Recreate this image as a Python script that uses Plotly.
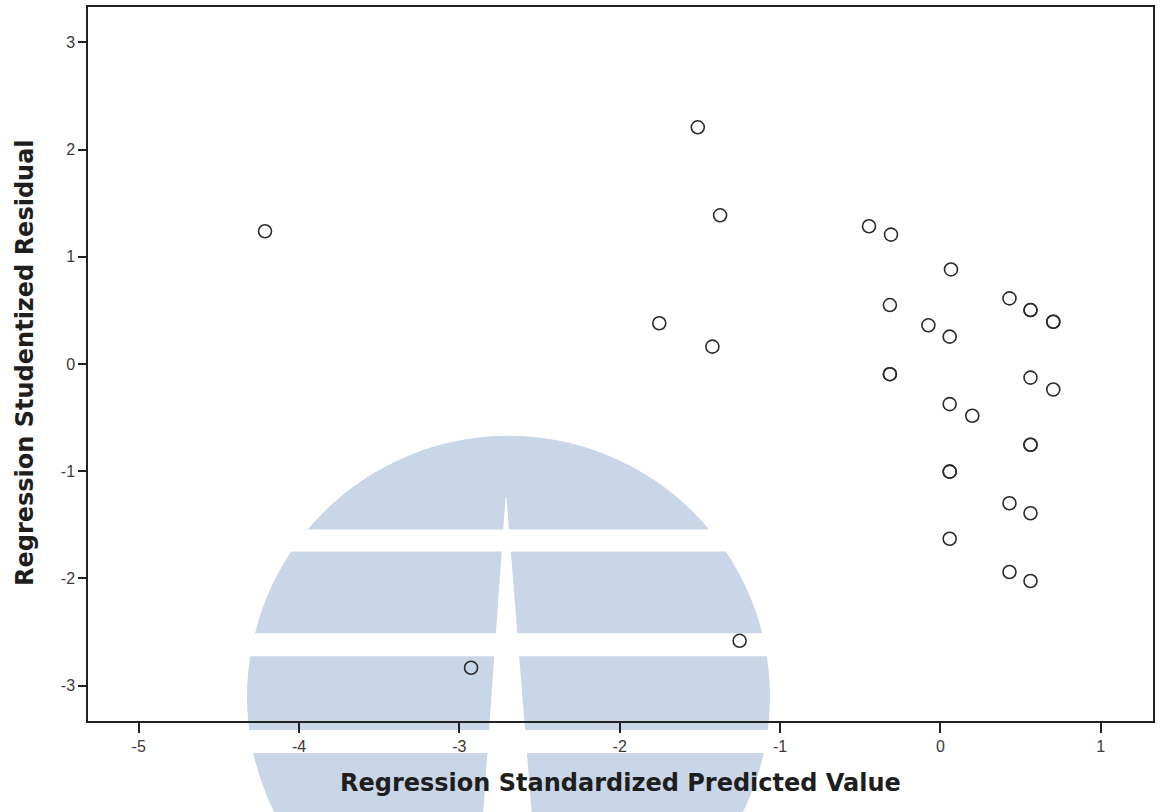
import plotly.graph_objects as go

# Standardized predicted values and studentized residuals (one entry per case;
# repeated pairs are cases that fall on the same spot)
predicted = [
    -4.212, -1.513, -1.374, -1.753, -1.422, -2.927, -1.252,
    -0.445, -0.308, 0.066, -0.315, -0.075, 0.058,
    -0.315, -0.315,
    0.431, 0.562, 0.562, 0.704, 0.704,
    0.562, 0.704, 0.058, 0.199,
    0.562, 0.562, 0.058, 0.058,
    0.431, 0.562, 0.058, 0.431, 0.562,
]
residual = [
    1.238, 2.208, 1.387, 0.380, 0.162, -2.833, -2.582,
    1.285, 1.207, 0.882, 0.550, 0.361, 0.255,
    -0.095, -0.095,
    0.612, 0.503, 0.503, 0.394, 0.394,
    -0.127, -0.238, -0.374, -0.483,
    -0.753, -0.753, -1.004, -1.004,
    -1.299, -1.392, -1.630, -1.940, -2.024,
]

x_ticks = [-5, -4, -3, -2, -1, 0, 1]
x_tick_labels = ["-5", "-4", "-3", "-2", "-1", "0", "1"]
y_ticks = [-3, -2, -1, 0, 1, 2, 3]
y_tick_labels = ["-3", "-2", "-1", "0", "1", "2", "3"]

x_title = "Regression Standardized Predicted Value"
y_title = "Regression Studentized Residual"

W, H = 1165, 812
ML, MR, MT, MB = 88, 12, 5, 91
PW, PH = W - ML - MR, H - MT - MB


def px(x):
    return (x - ML) / PW


def py(y):
    return (H - MB - y) / PH


INK = "#222222"
WM = "#c9d6e7"

fig = go.Figure(
    go.Scatter(
        x=predicted,
        y=residual,
        mode="markers",
        marker=dict(
            symbol="circle-open",
            size=13,
            color="#2b2b2b",
            line=dict(width=1.6, color="#2b2b2b"),
        ),
        hoverinfo="x+y",
    )
)

# Faint logo stamp behind the plot: a disc cut by white bands and a wedge
shapes = [
    dict(type="circle", xref="paper", yref="paper",
         x0=px(247), x1=px(770), y0=py(435), y1=py(958),
         fillcolor=WM, line=dict(width=0), layer="below"),
]
for top, bottom in [(529, 551), (633, 656), (730, 753)]:
    shapes.append(dict(type="rect", xref="paper", yref="paper",
                       x0=px(230), x1=px(790), y0=py(top), y1=py(bottom),
                       fillcolor="white", line=dict(width=0), layer="below"))
wedge = [(505.5, 497), (506.5, 497), (533.0, 830), (482.0, 830)]
path = "M " + " L ".join(f"{px(a):.5f},{py(b):.5f}" for a, b in wedge) + " Z"
shapes.append(dict(type="path", xref="paper", yref="paper", path=path,
                   fillcolor="white", line=dict(width=0), layer="below"))

axis_common = dict(
    showgrid=False,
    zeroline=False,
    showline=True,
    linecolor=INK,
    linewidth=1.5,
    mirror=True,
    ticks="outside",
    tickcolor=INK,
    tickwidth=1.5,
    tickfont=dict(family="Liberation Sans, Arial, sans-serif", size=16, color="#3a3a3a"),
)

fig.update_xaxes(range=[-5.316, 1.326], tickmode="array", tickvals=x_ticks,
                 ticktext=x_tick_labels, ticklen=10, **axis_common)
fig.update_yaxes(range=[-3.33, 3.33], tickmode="array", tickvals=y_ticks,
                 ticktext=y_tick_labels, ticklen=8, **axis_common)

title_font = dict(family="DejaVu Sans, Verdana, sans-serif", size=24, color="#1e1e1e")
annotations = [
    dict(text=f"<b>{x_title}</b>", xref="paper", yref="paper",
         x=px(620.5), y=py(783), xanchor="center", yanchor="middle",
         showarrow=False, font=title_font),
    dict(text=f"<b>{y_title}</b>", xref="paper", yref="paper",
         x=px(25), y=py(362), xanchor="center", yanchor="middle",
         textangle=-90, showarrow=False, font=title_font),
]

fig.update_layout(
    width=W,
    height=H,
    margin=dict(l=ML, r=MR, t=MT, b=MB),
    paper_bgcolor="white",
    plot_bgcolor="rgba(0,0,0,0)",
    showlegend=False,
    shapes=shapes,
    annotations=annotations,
)

fig.write_html("out.html")
